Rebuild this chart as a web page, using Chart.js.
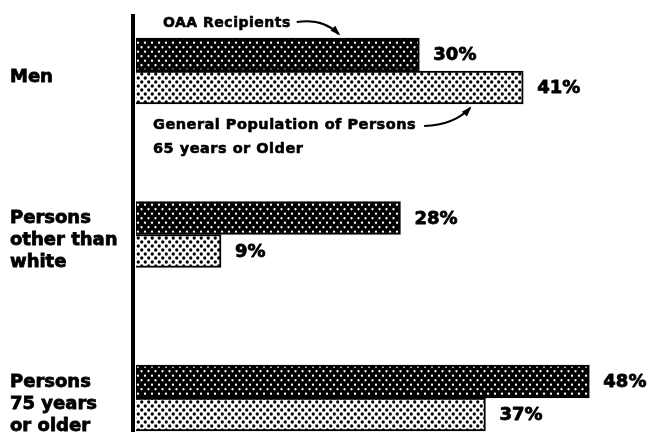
<!DOCTYPE html>
<html>
<head>
<meta charset="utf-8">
<script src="https://cdn.jsdelivr.net/npm/chart.js@4/dist/chart.umd.min.js"></script>
<style>
  html, body { margin: 0; padding: 0; background: #ffffff; }
  #wrap { width: 650px; height: 432px; position: relative; }
</style>
</head>
<body>
<div id="wrap"><canvas id="c" width="650" height="432"></canvas></div>
<script>
// ---- data ----
const categories = [
  ['Men'],
  ['Persons', 'other than', 'white'],
  ['Persons', '75 years', 'or older']
];
const oaaRecipients = [30, 28, 48];
const generalPopulation = [41, 9, 37];
const seriesNames = ['OAA Recipients', 'General Population of Persons 65 years or Older'];

// ---- patterns ----
function makePattern(w, h, bg, fg, dots, r) {
  const c = document.createElement('canvas');
  c.width = w; c.height = h;
  const g = c.getContext('2d');
  g.fillStyle = bg; g.fillRect(0, 0, w, h);
  g.fillStyle = fg;
  dots.forEach(d => { g.beginPath(); g.arc(d[0], d[1], r, 0, Math.PI * 2); g.fill(); });
  return document.getElementById('c').getContext('2d').createPattern(c, 'repeat');
}
const darkPattern = makePattern(7, 9, '#000000', '#ffffff', [[1.5, 2.25], [5, 6.75]], 1.15);
const lightPattern = makePattern(7, 8, '#ffffff', '#000000', [[1.75, 2], [5.25, 6]], 1.65);

const FONT = '"DejaVu Sans", "Liberation Sans", Arial, sans-serif';

function heavyText(ctx, text, x, y) {
  ctx.strokeText(text, x, y);
  ctx.fillText(text, x, y);
}

// axis line + value labels + annotations
const decor = {
  id: 'decor',
  afterDatasetsDraw(chart) {
    const ctx = chart.ctx;
    const area = chart.chartArea;
    ctx.save();
    ctx.fillStyle = '#000';
    ctx.strokeStyle = '#000';
    ctx.lineJoin = 'round';
    // vertical axis rule
    ctx.fillRect(area.left - 5, 14, 4, chart.height - 14);

    // value labels
    ctx.font = 'bold 18px ' + FONT;
    ctx.lineWidth = 0.8;
    ctx.textBaseline = 'middle';
    ctx.textAlign = 'left';
    chart.data.datasets.forEach((ds, di) => {
      const meta = chart.getDatasetMeta(di);
      meta.data.forEach((el, i) => {
        heavyText(ctx, ds.data[i] + '%', el.x + 14, el.y + 1);
      });
    });

    // annotations around the first category
    const dark = chart.getDatasetMeta(0).data[0];
    const light = chart.getDatasetMeta(1).data[0];
    const darkTop = dark.y - dark.height / 2;
    const lightBottom = light.y + light.height / 2;

    ctx.lineWidth = 0.6;
    ctx.font = 'bold 14px ' + FONT;
    ctx.letterSpacing = '0.5px';
    ctx.textBaseline = 'alphabetic';
    const t1x = area.left + 27, t1y = darkTop - 11;
    heavyText(ctx, 'OAA Recipients', t1x, t1y);
    const t1w = ctx.measureText('OAA Recipients').width;

    ctx.font = 'bold 14.5px ' + FONT;
    ctx.letterSpacing = '0.5px';
    const t2x = area.left + 17, t2y = lightBottom + 25;
    heavyText(ctx, 'General Population of Persons', t2x, t2y);
    const t2w = ctx.measureText('General Population of Persons').width;
    heavyText(ctx, '65 years or Older', t2x, t2y + 24);

    // arrows
    ctx.lineWidth = 2;
    function arrow(x0, y0, cx, cy, x1, y1) {
      ctx.beginPath();
      ctx.moveTo(x0, y0);
      ctx.quadraticCurveTo(cx, cy, x1, y1);
      ctx.stroke();
      const ang = Math.atan2(y1 - cy, x1 - cx);
      const L = 9, W = 0.4;
      ctx.beginPath();
      ctx.moveTo(x1 + 2 * Math.cos(ang), y1 + 2 * Math.sin(ang));
      ctx.lineTo(x1 - L * Math.cos(ang - W), y1 - L * Math.sin(ang - W));
      ctx.lineTo(x1 - L * Math.cos(ang + W), y1 - L * Math.sin(ang + W));
      ctx.closePath();
      ctx.fill();
    }
    const a1x = t1x + t1w + 6;
    arrow(a1x, t1y - 5, a1x + 26, t1y - 9, a1x + 42, darkTop - 4);
    const a2x = t2x + t2w + 8;
    arrow(a2x, t2y - 3, a2x + 30, t2y - 4, a2x + 46, lightBottom + 4);
    ctx.restore();
  }
};

new Chart(document.getElementById('c'), {
  type: 'bar',
  data: {
    labels: categories,
    datasets: [
      {
        label: seriesNames[0],
        data: oaaRecipients,
        backgroundColor: darkPattern,
        borderColor: '#000',
        borderWidth: 2,
        clip: false
      },
      {
        label: seriesNames[1],
        data: generalPopulation,
        backgroundColor: lightPattern,
        borderColor: '#000',
        borderWidth: 2,
        clip: false
      }
    ]
  },
  options: {
    indexAxis: 'y',
    responsive: false,
    animation: false,
    devicePixelRatio: 1,
    barThickness: 33,
    layout: { padding: { top: 71, bottom: 34, left: 10, right: 4 } },
    plugins: { legend: { display: false }, tooltip: { enabled: false } },
    scales: {
      x: { display: false, min: 0, max: 54 },
      y: {
        offset: false,
        grid: { display: false },
        border: { display: false },
        ticks: {
          color: '#000',
          padding: 0,
          crossAlign: 'far',
          labelOffset: 6,
          textStrokeColor: '#000',
          textStrokeWidth: 0.8,
          font: { family: FONT, size: 18, weight: 'bold', lineHeight: 1.22 }
        },
        afterFit(scale) { scale.width = 126; }
      }
    }
  },
  plugins: [decor]
});
</script>
</body>
</html>
